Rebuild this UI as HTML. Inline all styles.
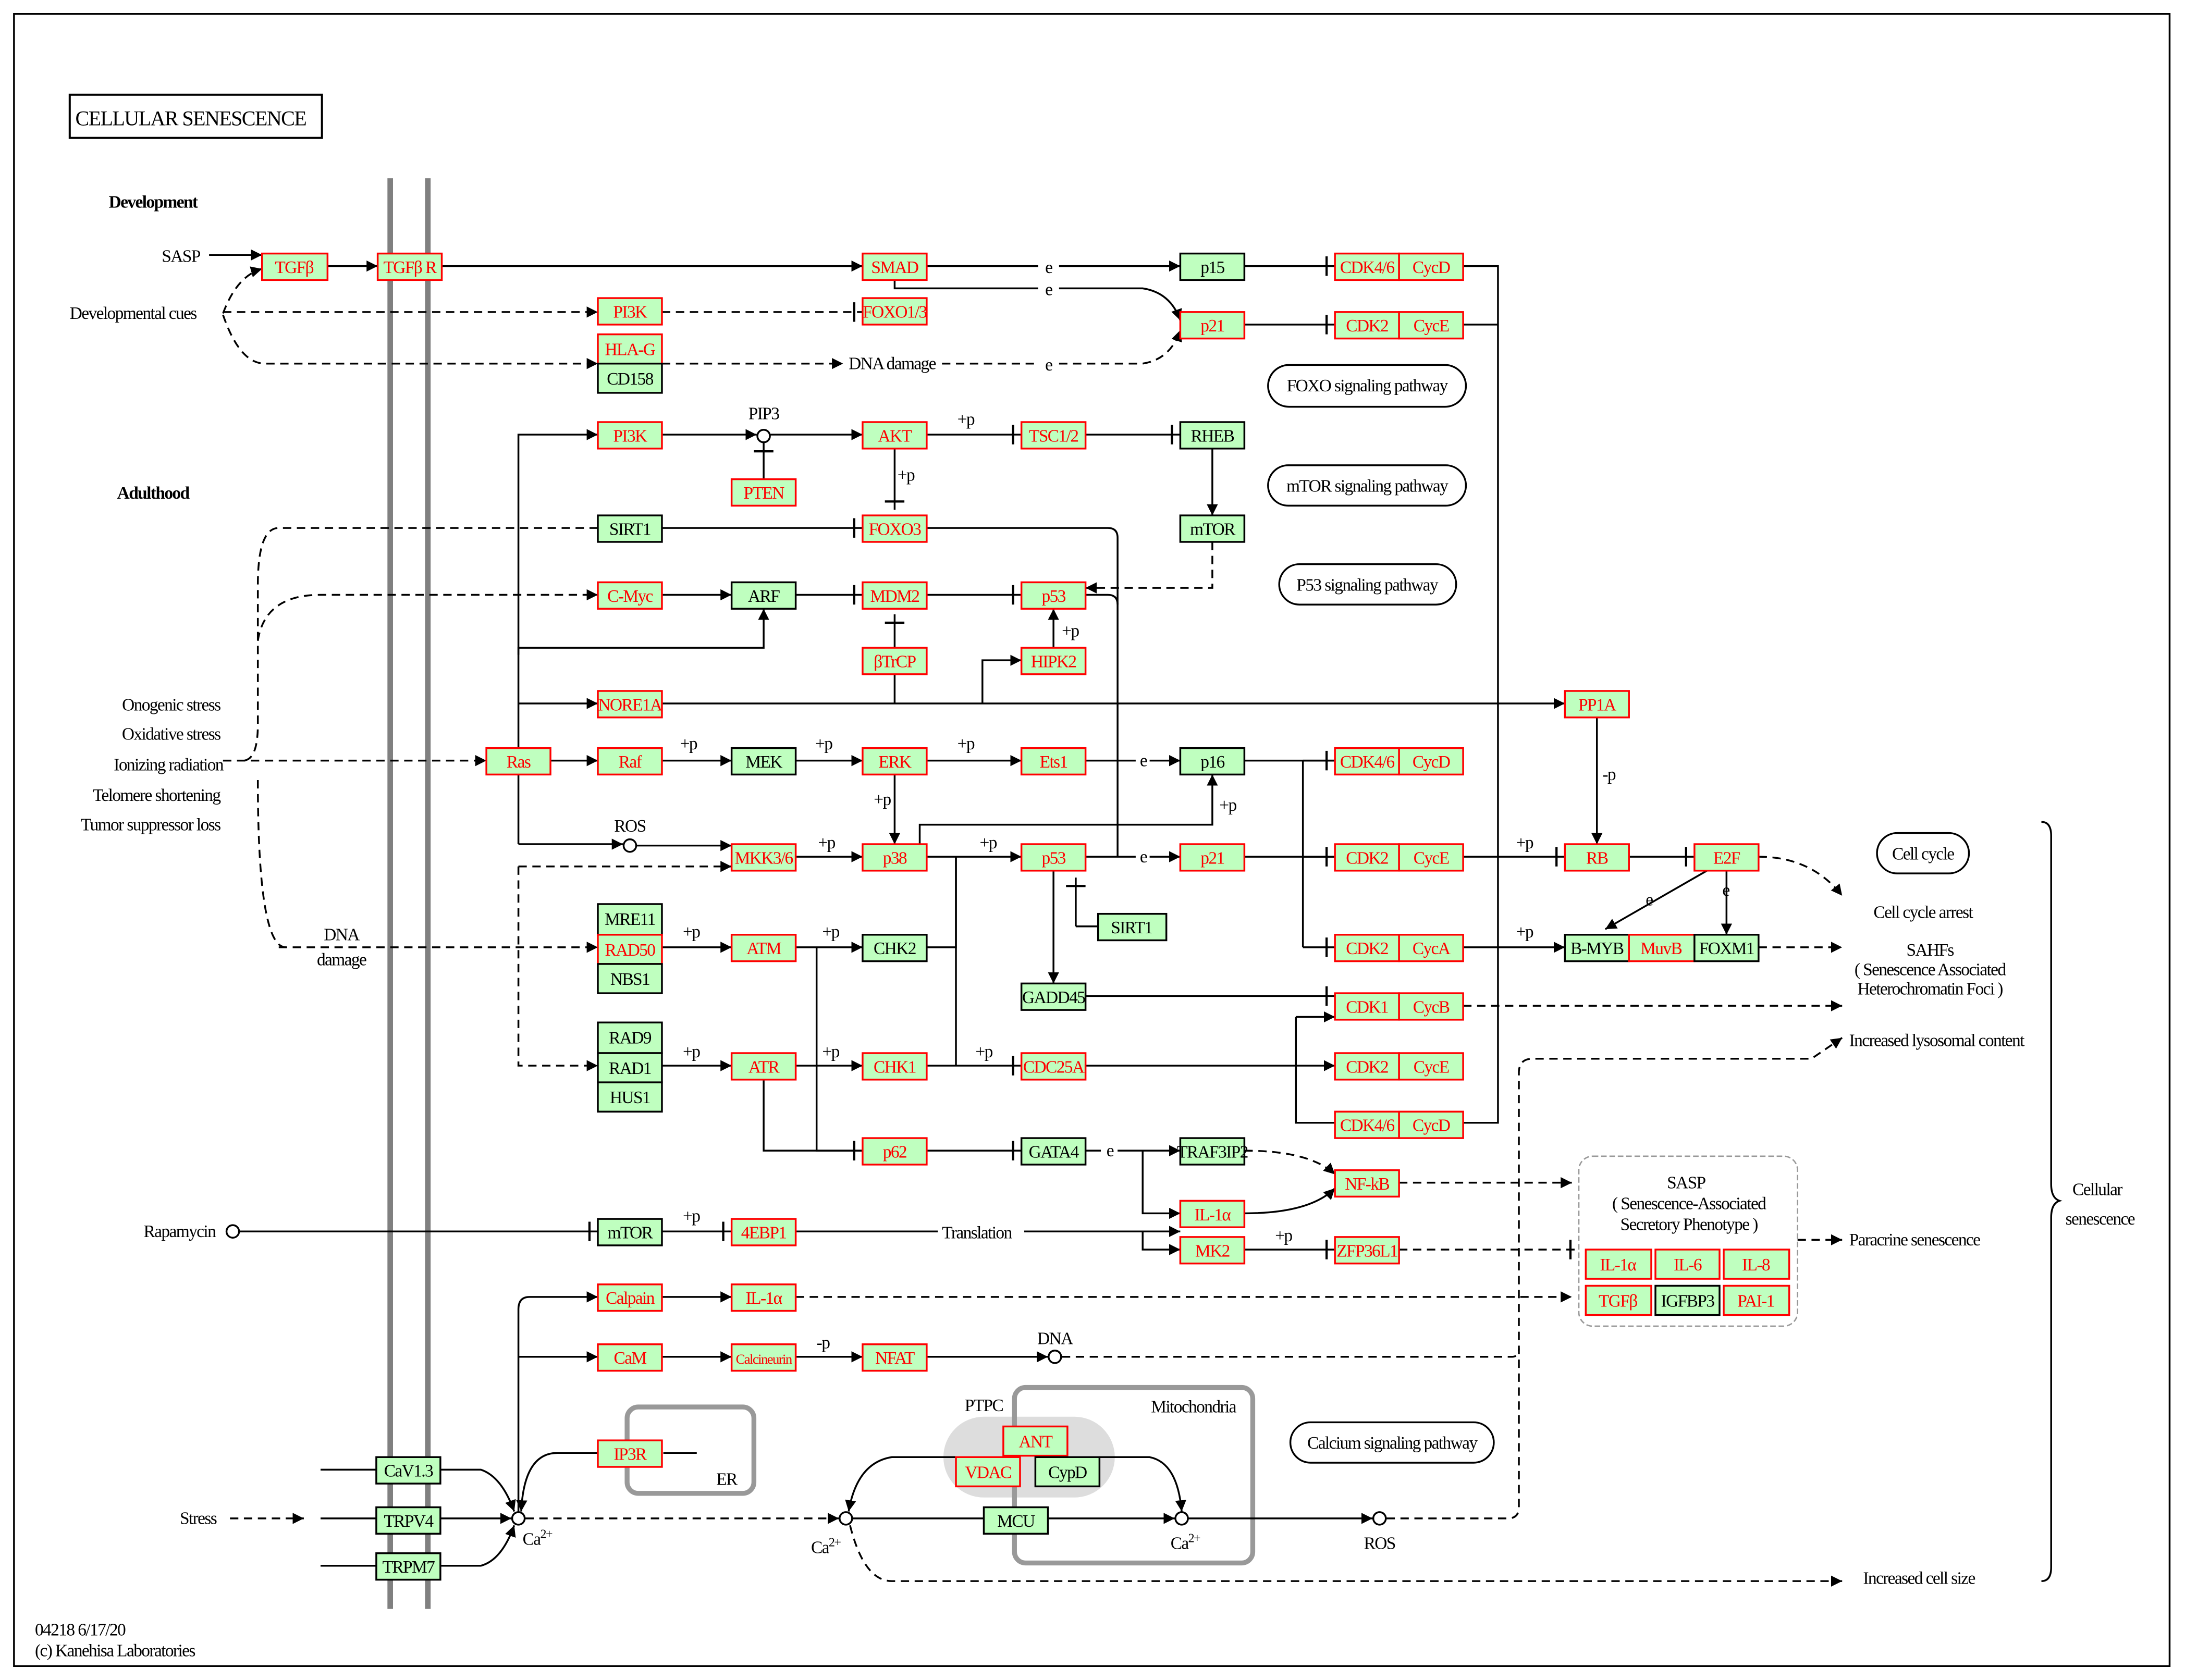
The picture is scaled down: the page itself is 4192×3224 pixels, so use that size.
<!DOCTYPE html>
<html><head><meta charset="utf-8"><style>
html,body{margin:0;padding:0;background:#fff}
svg{display:block}
text{font-family:"Liberation Serif",serif;font-size:12.5px;letter-spacing:-0.6px;fill:#000}
.n rect{fill:#bfffbf;stroke:#000;stroke-width:1.3}
.n text{text-anchor:middle}
.r rect{stroke:#f00}
.r text{fill:#f00}
.l{fill:none;stroke:#000;stroke-width:1.3}
.d{fill:none;stroke:#000;stroke-width:1.3;stroke-dasharray:6,4}
.a{marker-end:url(#ar)}
.b{marker-end:url(#br)}
.m{text-anchor:middle}
</style></head><body>
<svg width="4192" height="3224" viewBox="0 0 1568 1206" xmlns="http://www.w3.org/2000/svg">
<defs>
<marker id="ar" viewBox="0 0 10 10" refX="10" refY="5" markerWidth="8" markerHeight="8" markerUnits="userSpaceOnUse" orient="auto"><path d="M0,0L10,5L0,10z" fill="#000"/></marker>
<marker id="br" viewBox="0 0 10 16" refX="8" refY="8" markerWidth="10" markerHeight="16" markerUnits="userSpaceOnUse" orient="auto"><path d="M2,1V15" stroke="#000" stroke-width="1.6"/></marker>
</defs>
<rect x="10" y="10" width="1547" height="1186" fill="none" stroke="#000" stroke-width="1.3"/>
<rect x="50" y="68" width="181" height="31" fill="none" stroke="#000" stroke-width="1.5"/>
<text x="54" y="90" style="font-size:15px">CELLULAR SENESCENCE</text>
<line x1="280" y1="128" x2="280" y2="1155" stroke="#808080" stroke-width="4"/>
<line x1="307" y1="128" x2="307" y2="1155" stroke="#808080" stroke-width="4"/>

<rect x="677" y="1017" width="123" height="58" rx="29" fill="#ddd"/>
<rect x="450" y="1010" width="91" height="62" rx="8" fill="none" stroke="#999" stroke-width="3.5"/>
<rect x="728" y="996" width="171" height="126" rx="8" fill="none" stroke="#999" stroke-width="3.5"/>
<rect x="1133" y="830" width="157" height="122" rx="10" fill="none" stroke="#999" stroke-width="1" stroke-dasharray="4,2"/>

<text x="78" y="149" style="font-weight:bold">Development</text>
<text x="84" y="358" style="font-weight:bold">Adulthood</text>
<text x="116" y="188">SASP</text>
<text x="50" y="229">Developmental cues</text>
<text x="158" y="510" text-anchor="end">Onogenic stress</text>
<text x="158" y="531" text-anchor="end">Oxidative stress</text>
<text x="160" y="553" text-anchor="end">Ionizing radiation</text>
<text x="158" y="575" text-anchor="end">Telomere shortening</text>
<text x="158" y="596" text-anchor="end">Tumor suppressor loss</text>
<text x="245" y="675" class="m">DNA</text>
<text x="245" y="693" class="m">damage</text>
<text x="103" y="888">Rapamycin</text>
<text x="129" y="1094">Stress</text>
<text x="25" y="1174">04218 6/17/20</text>
<text x="25" y="1189">(c) Kanehisa Laboratories</text>
<text x="1505" y="858" class="m">Cellular</text>
<text x="1507" y="879" class="m">senescence</text>
<text x="1380" y="659" class="m">Cell cycle arrest</text>
<text x="1385" y="686" class="m">SAHFs</text>
<text x="1385" y="700" class="m">( Senescence Associated</text>
<text x="1385" y="714" class="m">Heterochromatin Foci )</text>
<text x="1327" y="751">Increased lysosomal content</text>
<text x="1327" y="894">Paracrine  senescence</text>
<text x="1337" y="1137">Increased cell size</text>
<text x="1210" y="853" class="m">SASP</text>
<text x="1212" y="868" class="m">( Senescence-Associated</text>
<text x="1212" y="883" class="m">Secretory Phenotype )</text>
<text x="548" y="301" class="m">PIP3</text>
<text x="452" y="597" class="m">ROS</text>
<text x="757" y="965" class="m">DNA</text>
<text x="990" y="1112" class="m">ROS</text>
<text x="609" y="265">DNA damage</text>
<text x="676" y="889">Translation</text>
<text x="706" y="1013" class="m">PTPC</text>
<text x="826" y="1014">Mitochondria</text>
<text x="514" y="1066">ER</text>
<text x="375" y="1109">Ca<tspan dy="-5" style="font-size:9px">2+</tspan></text>
<text x="582" y="1115">Ca<tspan dy="-5" style="font-size:9px">2+</tspan></text>
<text x="840" y="1112">Ca<tspan dy="-5" style="font-size:9px">2+</tspan></text>
<g style="font-size:11px">
<text x="750" y="196">e</text><text x="750" y="212">e</text><text x="750" y="266">e</text>
<text x="818" y="550">e</text><text x="818" y="619">e</text><text x="794" y="830">e</text>
<text x="1181" y="650">e</text><text x="1236" y="643">e</text>
<text x="687" y="305">+p</text><text x="644" y="345">+p</text><text x="762" y="457">+p</text>
<text x="488" y="538">+p</text><text x="585" y="538">+p</text><text x="687" y="538">+p</text>
<text x="627" y="578">+p</text><text x="875" y="582">+p</text>
<text x="587" y="609">+p</text><text x="703" y="609">+p</text><text x="1088" y="609">+p</text>
<text x="490" y="673">+p</text><text x="590" y="673">+p</text><text x="1088" y="673">+p</text>
<text x="490" y="759">+p</text><text x="590" y="759">+p</text><text x="700" y="759">+p</text>
<text x="490" y="877">+p</text><text x="915" y="891">+p</text>
<text x="1150" y="560">-p</text><text x="586" y="968">-p</text>
</g>

<g fill="none" stroke="#000" stroke-width="1.3">
<rect x="910" y="262" width="142" height="30" rx="15"/>
<rect x="910" y="334" width="142" height="29" rx="14.5"/>
<rect x="918" y="405" width="127" height="29" rx="14.5"/>
<rect x="1347" y="598" width="66" height="29" rx="14.5"/>
<rect x="926" y="1021" width="146" height="29" rx="14.5"/>
</g>
<text x="981" y="281" class="m">FOXO signaling pathway</text>
<text x="981" y="353" class="m">mTOR signaling pathway</text>
<text x="981" y="424" class="m">P53 signaling pathway</text>
<text x="1380" y="617" class="m">Cell cycle</text>
<text x="999" y="1040" class="m">Calcium signaling pathway</text>

<g>
<path class="l a" d="M150,183H188"/>
<path class="d a" d="M160,225Q170,198 188,193"/>
<path class="l a" d="M235,191H271"/>
<path class="l a" d="M317,191H619"/>
<path class="l a" d="M665,191H745M760,191H847"/>
<path class="l b" d="M893,191H958"/>
<path class="l a" d="M642,201V207H745M760,207H820Q840,210 847,230"/>
<path class="l b" d="M893,233H958"/>
<path class="d a" d="M160,224H429"/>
<path class="d b" d="M475,224H619"/>
<path class="d a" d="M160,226Q172,261 190,261H429"/>
<path class="d a" d="M475,261H605"/>
<path class="d a" d="M676,261H745M760,261H820Q840,258 847,237"/>
<path class="l" d="M1050,191H1075V806H1050M1050,233H1075"/>
<path class="l a" d="M372,606V312H429"/>
<path class="l a" d="M475,312H543"/>
<circle cx="548" cy="313" r="4.5" fill="#fff" stroke="#000" stroke-width="1.3"/>
<path class="l a" d="M553,312H619"/>
<path class="l b" d="M548,344V318"/>
<path class="l b" d="M665,312H733"/>
<path class="l b" d="M779,312H847"/>
<path class="l a" d="M870,322V370"/>
<path class="d a" d="M870,389V422H779"/>
<path class="l b" d="M642,322V366"/>
<path class="l b" d="M475,379H619"/>
<path class="l" d="M665,379H795Q802,379 802,386V615"/>
<path class="d" d="M429,379H200Q185,379 185,420V520Q185,545 175,546"/>
<path class="d a" d="M185,460Q190,427 230,427H429"/>
<path class="d" d="M185,560Q185,680 205,680"/>
<path class="d a" d="M200,680H429"/>
<path class="l a" d="M475,427H525"/>
<path class="l b" d="M571,427H619"/>
<path class="l b" d="M665,427H733"/>
<path class="l" d="M779,427H795Q802,427 802,434"/>
<path class="l a" d="M372,470V465H548V437"/>
<path class="l b" d="M642,505V441"/>
<path class="l a" d="M756,465V437"/>
<path class="l a" d="M705,505V474H733"/>
<path class="l a" d="M372,505H429"/>
<path class="l a" d="M475,505H1123"/>
<path class="l a" d="M1146,515V606"/>
<path class="d a" d="M160,546H349"/>
<path class="l a" d="M395,546H429"/>
<path class="l a" d="M475,546H525"/>
<path class="l a" d="M571,546H619"/>
<path class="l a" d="M665,546H733"/>
<path class="l a" d="M779,546H815M825,546H847"/>
<path class="l b" d="M893,546H958"/>
<path class="l a" d="M642,556V606"/>
<path class="l a" d="M660,606V592H870V556"/>
<path class="l a" d="M372,606H447"/>
<circle cx="452" cy="607" r="4.5" fill="#fff" stroke="#000" stroke-width="1.3"/>
<path class="l a" d="M457,607H525"/>
<path class="d a" d="M372,622H525"/>
<path class="d a" d="M372,622V765H429"/>
<path class="l a" d="M571,615H619"/>
<path class="l a" d="M665,615H733"/>
<path class="l a" d="M779,615H815M825,615H847"/>
<path class="l b" d="M893,615H958"/>
<path class="l b" d="M772,665V630"/>
<path class="l" d="M772,665H788"/>
<path class="l a" d="M756,625V706"/>
<path class="l b" d="M779,715H958"/>
<path class="l" d="M935,546V680"/>
<path class="l b" d="M935,546H958M935,615H958M935,680H958"/>
<path class="l b" d="M1050,615H1123"/>
<path class="l b" d="M1169,615H1216"/>
<path class="l a" d="M1050,680H1123"/>
<path class="l a" d="M1225,625L1152,667"/>
<path class="l a" d="M1239,625V671"/>
<path class="d a" d="M1262,615Q1300,615 1322,643"/>
<path class="d a" d="M1262,680H1322"/>
<path class="d a" d="M1050,722H1322"/>
<path class="l a" d="M475,680H525"/>
<path class="l a" d="M571,680H619"/>
<path class="l" d="M665,680H686V615"/>
<path class="l b" d="M586,680V826H619"/>
<path class="l a" d="M475,765H525"/>
<path class="l a" d="M571,765H619"/>
<path class="l b" d="M665,765H733"/>
<path class="l" d="M686,765V615"/>
<path class="l a" d="M779,765H958"/>
<path class="l a" d="M930,730V806H958M930,730H958"/>
<path class="l b" d="M548,775V826H619"/>
<path class="l b" d="M665,826H733"/>
<path class="l a" d="M779,826H790M802,826H847"/>
<path class="l a" d="M820,826V871H847"/>
<path class="d a" d="M893,826Q940,826 958,843"/>
<path class="l a" d="M893,871Q940,871 958,853"/>
<path class="d a" d="M1004,849H1128"/>
<circle cx="167" cy="884" r="4.5" fill="#fff" stroke="#000" stroke-width="1.3"/>
<path class="l b" d="M172,884H429"/>
<path class="l b" d="M475,884H525"/>
<path class="l" d="M571,884H673"/>
<path class="l a" d="M735,884H847"/>
<path class="l a" d="M820,884V897H847"/>
<path class="l b" d="M893,897H958"/>
<path class="d b" d="M1004,897H1133"/>
<path class="d a" d="M1290,890H1322"/>
<path class="l a" d="M372,1085V940Q372,931 380,931H429"/>
<path class="l a" d="M475,931H525"/>
<path class="d a" d="M571,931H1128"/>
<path class="l a" d="M372,974H429"/>
<path class="l a" d="M475,974H525"/>
<path class="l a" d="M571,974H619"/>
<path class="l a" d="M665,974H752"/>
<circle cx="757" cy="974" r="4.5" fill="#fff" stroke="#000" stroke-width="1.3"/>
<path class="d" d="M762,974H1085Q1090,974 1090,968"/>
<path class="l" d="M476,1043H500"/>
<path class="l a" d="M429,1043H400Q376,1043 374,1085"/>
<path class="l" d="M230,1055H270M230,1090H270M230,1124H270"/>
<path class="l a" d="M316,1055H345Q360,1060 369,1085"/>
<path class="l a" d="M316,1090H367"/>
<path class="l a" d="M316,1124H345Q360,1120 369,1095"/>
<path class="d a" d="M165,1090H218"/>
<circle cx="372" cy="1090" r="4.5" fill="#fff" stroke="#000" stroke-width="1.3"/>
<path class="d a" d="M377,1090H602"/>
<circle cx="607" cy="1090" r="4.5" fill="#fff" stroke="#000" stroke-width="1.3"/>
<path class="l a" d="M686,1046H640Q615,1050 609,1085"/>
<path class="l" d="M612,1090H706"/>
<path class="l a" d="M752,1090H843"/>
<circle cx="848" cy="1090" r="4.5" fill="#fff" stroke="#000" stroke-width="1.3"/>
<path class="l a" d="M789,1046H825Q845,1050 848,1085"/>
<path class="l a" d="M853,1090H985"/>
<circle cx="990" cy="1090" r="4.5" fill="#fff" stroke="#000" stroke-width="1.3"/>
<path class="d a" d="M995,1090H1082Q1090,1090 1090,1082V770Q1090,760 1100,760H1300L1322,745"/>
<path class="d a" d="M610,1095Q620,1135 640,1135H1322"/>
<path class="l" d="M1465,590Q1472,590 1472,600V850Q1472,860 1478,862Q1472,864 1472,874V1125Q1472,1135 1465,1135"/>
</g>

<g class="n r"><rect x="188" y="182" width="47" height="19"/><text x="211" y="196">TGFβ</text></g>
<g class="n r"><rect x="271" y="182" width="46" height="19"/><text x="294" y="196">TGFβ R</text></g>
<g class="n r"><rect x="619" y="182" width="46" height="19"/><text x="642" y="196">SMAD</text></g>
<g class="n"><rect x="847" y="182" width="46" height="19"/><text x="870" y="196">p15</text></g>
<g class="n r"><rect x="958" y="182" width="46" height="19"/><text x="981" y="196">CDK4/6</text></g>
<g class="n r"><rect x="1004" y="182" width="46" height="19"/><text x="1027" y="196">CycD</text></g>
<g class="n r"><rect x="429" y="214" width="46" height="19"/><text x="452" y="228">PI3K</text></g>
<g class="n r"><rect x="619" y="214" width="46" height="19"/><text x="642" y="228">FOXO1/3</text></g>
<g class="n r"><rect x="847" y="224" width="46" height="19"/><text x="870" y="238">p21</text></g>
<g class="n r"><rect x="958" y="224" width="46" height="19"/><text x="981" y="238">CDK2</text></g>
<g class="n r"><rect x="1004" y="224" width="46" height="19"/><text x="1027" y="238">CycE</text></g>
<g class="n r"><rect x="429" y="240" width="46" height="21"/><text x="452" y="255">HLA-G</text></g>
<g class="n"><rect x="429" y="261" width="46" height="21"/><text x="452" y="276">CD158</text></g>
<g class="n r"><rect x="429" y="303" width="46" height="19"/><text x="452" y="317">PI3K</text></g>
<g class="n r"><rect x="619" y="303" width="46" height="19"/><text x="642" y="317">AKT</text></g>
<g class="n r"><rect x="733" y="303" width="46" height="19"/><text x="756" y="317">TSC1/2</text></g>
<g class="n"><rect x="847" y="303" width="46" height="19"/><text x="870" y="317">RHEB</text></g>
<g class="n r"><rect x="525" y="344" width="46" height="19"/><text x="548" y="358">PTEN</text></g>
<g class="n"><rect x="429" y="370" width="46" height="19"/><text x="452" y="384">SIRT1</text></g>
<g class="n r"><rect x="619" y="370" width="46" height="19"/><text x="642" y="384">FOXO3</text></g>
<g class="n"><rect x="847" y="370" width="46" height="19"/><text x="870" y="384">mTOR</text></g>
<g class="n r"><rect x="429" y="418" width="46" height="19"/><text x="452" y="432">C-Myc</text></g>
<g class="n"><rect x="525" y="418" width="46" height="19"/><text x="548" y="432">ARF</text></g>
<g class="n r"><rect x="619" y="418" width="46" height="19"/><text x="642" y="432">MDM2</text></g>
<g class="n r"><rect x="733" y="418" width="46" height="19"/><text x="756" y="432">p53</text></g>
<g class="n r"><rect x="619" y="465" width="46" height="19"/><text x="642" y="479">βTrCP</text></g>
<g class="n r"><rect x="733" y="465" width="46" height="19"/><text x="756" y="479">HIPK2</text></g>
<g class="n r"><rect x="429" y="496" width="46" height="19"/><text x="452" y="510">NORE1A</text></g>
<g class="n r"><rect x="1123" y="496" width="46" height="19"/><text x="1146" y="510">PP1A</text></g>
<g class="n r"><rect x="349" y="537" width="46" height="19"/><text x="372" y="551">Ras</text></g>
<g class="n r"><rect x="429" y="537" width="46" height="19"/><text x="452" y="551">Raf</text></g>
<g class="n"><rect x="525" y="537" width="46" height="19"/><text x="548" y="551">MEK</text></g>
<g class="n r"><rect x="619" y="537" width="46" height="19"/><text x="642" y="551">ERK</text></g>
<g class="n r"><rect x="733" y="537" width="46" height="19"/><text x="756" y="551">Ets1</text></g>
<g class="n"><rect x="847" y="537" width="46" height="19"/><text x="870" y="551">p16</text></g>
<g class="n r"><rect x="958" y="537" width="46" height="19"/><text x="981" y="551">CDK4/6</text></g>
<g class="n r"><rect x="1004" y="537" width="46" height="19"/><text x="1027" y="551">CycD</text></g>
<g class="n r"><rect x="525" y="606" width="46" height="19"/><text x="548" y="620">MKK3/6</text></g>
<g class="n r"><rect x="619" y="606" width="46" height="19"/><text x="642" y="620">p38</text></g>
<g class="n r"><rect x="733" y="606" width="46" height="19"/><text x="756" y="620">p53</text></g>
<g class="n r"><rect x="847" y="606" width="46" height="19"/><text x="870" y="620">p21</text></g>
<g class="n r"><rect x="958" y="606" width="46" height="19"/><text x="981" y="620">CDK2</text></g>
<g class="n r"><rect x="1004" y="606" width="46" height="19"/><text x="1027" y="620">CycE</text></g>
<g class="n r"><rect x="1123" y="606" width="46" height="19"/><text x="1146" y="620">RB</text></g>
<g class="n r"><rect x="1216" y="606" width="46" height="19"/><text x="1239" y="620">E2F</text></g>
<g class="n"><rect x="788" y="656" width="49" height="19"/><text x="812" y="670">SIRT1</text></g>
<g class="n"><rect x="429" y="649" width="46" height="22"/><text x="452" y="664">MRE11</text></g>
<g class="n r"><rect x="429" y="671" width="46" height="21"/><text x="452" y="686">RAD50</text></g>
<g class="n"><rect x="429" y="692" width="46" height="21"/><text x="452" y="707">NBS1</text></g>
<g class="n r"><rect x="525" y="671" width="46" height="19"/><text x="548" y="685">ATM</text></g>
<g class="n"><rect x="619" y="671" width="46" height="19"/><text x="642" y="685">CHK2</text></g>
<g class="n r"><rect x="958" y="671" width="46" height="19"/><text x="981" y="685">CDK2</text></g>
<g class="n r"><rect x="1004" y="671" width="46" height="19"/><text x="1027" y="685">CycA</text></g>
<g class="n"><rect x="1123" y="671" width="46" height="19"/><text x="1146" y="685">B-MYB</text></g>
<g class="n r"><rect x="1169" y="671" width="47" height="19"/><text x="1192" y="685">MuvB</text></g>
<g class="n"><rect x="1216" y="671" width="46" height="19"/><text x="1239" y="685">FOXM1</text></g>
<g class="n"><rect x="733" y="706" width="46" height="19"/><text x="756" y="720">GADD45</text></g>
<g class="n r"><rect x="958" y="713" width="46" height="19"/><text x="981" y="727">CDK1</text></g>
<g class="n r"><rect x="1004" y="713" width="46" height="19"/><text x="1027" y="727">CycB</text></g>
<g class="n"><rect x="429" y="734" width="46" height="22"/><text x="452" y="749">RAD9</text></g>
<g class="n"><rect x="429" y="756" width="46" height="21"/><text x="452" y="771">RAD1</text></g>
<g class="n"><rect x="429" y="777" width="46" height="21"/><text x="452" y="792">HUS1</text></g>
<g class="n r"><rect x="525" y="756" width="46" height="19"/><text x="548" y="770">ATR</text></g>
<g class="n r"><rect x="619" y="756" width="46" height="19"/><text x="642" y="770">CHK1</text></g>
<g class="n r"><rect x="733" y="756" width="46" height="19"/><text x="756" y="770">CDC25A</text></g>
<g class="n r"><rect x="958" y="756" width="46" height="19"/><text x="981" y="770">CDK2</text></g>
<g class="n r"><rect x="1004" y="756" width="46" height="19"/><text x="1027" y="770">CycE</text></g>
<g class="n r"><rect x="958" y="798" width="46" height="19"/><text x="981" y="812">CDK4/6</text></g>
<g class="n r"><rect x="1004" y="798" width="46" height="19"/><text x="1027" y="812">CycD</text></g>
<g class="n r"><rect x="619" y="817" width="46" height="19"/><text x="642" y="831">p62</text></g>
<g class="n"><rect x="733" y="817" width="46" height="19"/><text x="756" y="831">GATA4</text></g>
<g class="n"><rect x="847" y="817" width="46" height="19"/><text x="870" y="831">TRAF3IP2</text></g>
<g class="n r"><rect x="958" y="840" width="46" height="19"/><text x="981" y="854">NF-kB</text></g>
<g class="n r"><rect x="847" y="862" width="46" height="19"/><text x="870" y="876">IL-1α</text></g>
<g class="n"><rect x="429" y="875" width="46" height="19"/><text x="452" y="889">mTOR</text></g>
<g class="n r"><rect x="525" y="875" width="46" height="19"/><text x="548" y="889">4EBP1</text></g>
<g class="n r"><rect x="847" y="888" width="46" height="19"/><text x="870" y="902">MK2</text></g>
<g class="n r"><rect x="958" y="888" width="46" height="19"/><text x="981" y="902">ZFP36L1</text></g>
<g class="n r"><rect x="1138" y="897" width="47" height="21"/><text x="1161" y="912">IL-1α</text></g>
<g class="n r"><rect x="1188" y="897" width="46" height="21"/><text x="1211" y="912">IL-6</text></g>
<g class="n r"><rect x="1237" y="897" width="47" height="21"/><text x="1260" y="912">IL-8</text></g>
<g class="n r"><rect x="1138" y="923" width="47" height="21"/><text x="1161" y="938">TGFβ</text></g>
<g class="n"><rect x="1188" y="923" width="46" height="21"/><text x="1211" y="938">IGFBP3</text></g>
<g class="n r"><rect x="1237" y="923" width="47" height="21"/><text x="1260" y="938">PAI-1</text></g>
<g class="n r"><rect x="429" y="922" width="46" height="19"/><text x="452" y="936">Calpain</text></g>
<g class="n r"><rect x="525" y="922" width="46" height="19"/><text x="548" y="936">IL-1α</text></g>
<g class="n r"><rect x="429" y="965" width="46" height="19"/><text x="452" y="979">CaM</text></g>
<g class="n r"><rect x="525" y="965" width="46" height="19"/><text x="548" y="979" style="font-size:10px">Calcineurin</text></g>
<g class="n r"><rect x="619" y="965" width="46" height="19"/><text x="642" y="979">NFAT</text></g>
<g class="n r"><rect x="429" y="1034" width="46" height="19"/><text x="452" y="1048">IP3R</text></g>
<g class="n r"><rect x="720" y="1024" width="46" height="21"/><text x="743" y="1039">ANT</text></g>
<g class="n r"><rect x="686" y="1046" width="46" height="21"/><text x="709" y="1061">VDAC</text></g>
<g class="n"><rect x="743" y="1046" width="46" height="21"/><text x="766" y="1061">CypD</text></g>
<g class="n"><rect x="706" y="1082" width="46" height="19"/><text x="729" y="1096">MCU</text></g>
<g class="n"><rect x="270" y="1046" width="46" height="19"/><text x="293" y="1060">CaV1.3</text></g>
<g class="n"><rect x="270" y="1082" width="46" height="19"/><text x="293" y="1096">TRPV4</text></g>
<g class="n"><rect x="270" y="1115" width="46" height="19"/><text x="293" y="1129">TRPM7</text></g>
</svg>
</body></html>
